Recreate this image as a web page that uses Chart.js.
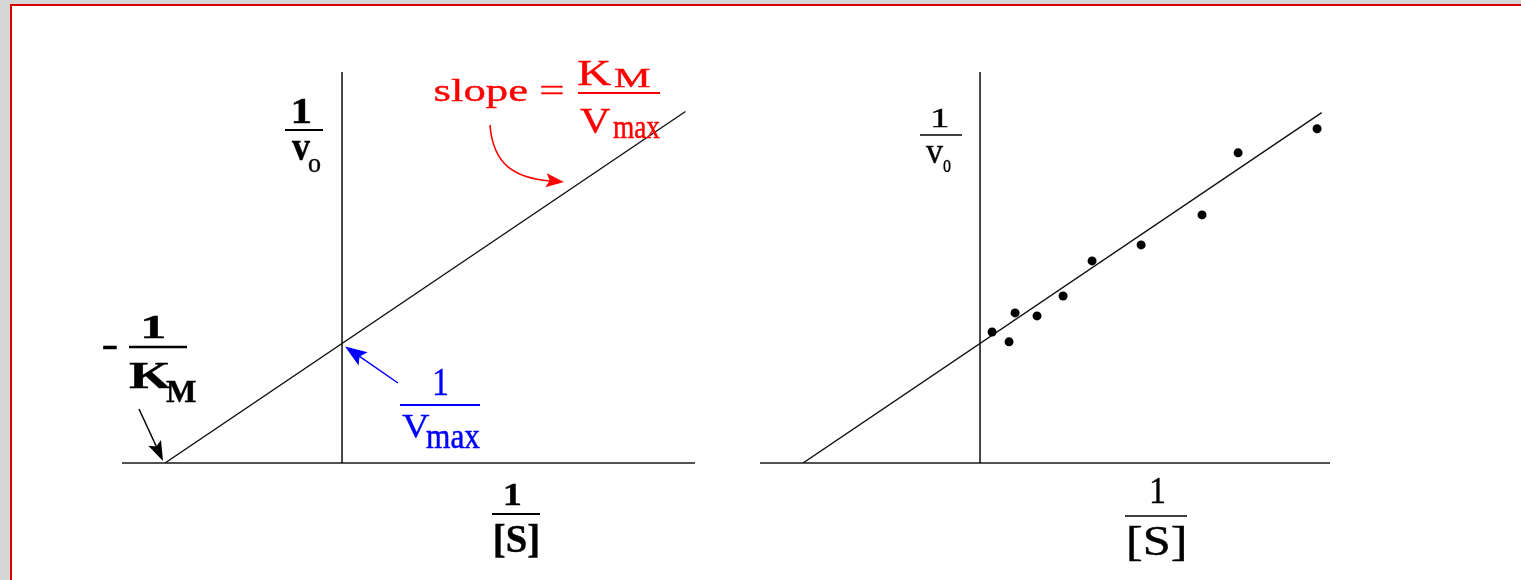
<!DOCTYPE html>
<html>
<head>
<meta charset="utf-8">
<title>Lineweaver-Burk plot</title>
<script src="https://cdn.jsdelivr.net/npm/chart.js@4.4.1/dist/chart.umd.min.js"></script>
<style>
  html, body { margin: 0; padding: 0; }
  body { width: 1521px; height: 580px; background: #d6d6d6; position: relative; overflow: hidden; }
  .page { position: absolute; left: 10px; top: 4px; right: 0; bottom: 0; background: #fff;
          border-left: 2px solid #d40000; border-top: 2px solid #d40000; }
  canvas { position: absolute; left: 0; top: 0; }
</style>
</head>
<body>
<div class="page"></div>
<canvas id="theoryChart" width="1521" height="580"></canvas>
<canvas id="dataChart" width="1521" height="580"></canvas>
<script>
// 1/[S] in units of 1/KM, 1/v0 in units of 1/Vmax
const theoryXRange = [-1.243, 1.994];
const dataXRange = [-1.243, 1.977];
const yRange = [0, 3.27];

// ideal straight line (left plot)
const idealX = [-1, 1.94];
const idealY = [0, 2.94];

// measured points (right plot)
const measuredX = [0.068, 0.164, 0.198, 0.322, 0.469, 0.633, 0.910, 1.254, 1.458, 1.904];
const measuredY = [1.096, 1.013, 1.255, 1.230, 1.397, 1.690, 1.824, 2.075, 2.594, 2.795];

// best fit line through the measured points (right plot)
const fitX = [-1, 1.93];
const fitY = [0, 2.93];

const SERIF = '"Liberation Serif", "Times New Roman", serif';
const BLACK = '#000';
const RED = '#ff0000';
const BLUE = '#0000ff';

function toPoints(xs, ys) {
  return xs.map((x, i) => ({ x: x, y: ys[i] }));
}

// draws a string so that its ink fills the box (x1,y1)-(x2,y2)
function boxText(ctx, str, font, color, x1, y1, x2, y2) {
  ctx.save();
  ctx.font = font;
  ctx.fillStyle = color;
  ctx.strokeStyle = color;
  ctx.lineWidth = 0.35;
  ctx.textBaseline = 'alphabetic';
  ctx.textAlign = 'left';
  const m = ctx.measureText(str);
  const w = m.actualBoundingBoxLeft + m.actualBoundingBoxRight;
  const h = m.actualBoundingBoxAscent + m.actualBoundingBoxDescent;
  ctx.translate(x1, y1);
  ctx.scale((x2 - x1) / w, (y2 - y1) / h);
  ctx.fillText(str, m.actualBoundingBoxLeft, m.actualBoundingBoxAscent);
  ctx.strokeText(str, m.actualBoundingBoxLeft, m.actualBoundingBoxAscent);
  ctx.restore();
}

function bar(ctx, x1, x2, y, color, width) {
  ctx.save();
  ctx.strokeStyle = color;
  ctx.lineWidth = width;
  ctx.beginPath();
  ctx.moveTo(x1, y);
  ctx.lineTo(x2, y);
  ctx.stroke();
  ctx.restore();
}

function arrowHead(ctx, tx, ty, angle, len, half, color) {
  ctx.save();
  ctx.fillStyle = color;
  ctx.translate(tx, ty);
  ctx.rotate(angle);
  ctx.beginPath();
  ctx.moveTo(0, 0);
  ctx.lineTo(-len, -half);
  ctx.lineTo(-len * 0.8, 0);
  ctx.lineTo(-len, half);
  ctx.closePath();
  ctx.fill();
  ctx.restore();
}

function straightArrow(ctx, x1, y1, x2, y2, color, len, half) {
  const ang = Math.atan2(y2 - y1, x2 - x1);
  ctx.save();
  ctx.strokeStyle = color;
  ctx.lineWidth = 1.5;
  ctx.beginPath();
  ctx.moveTo(x1, y1);
  ctx.lineTo(x2 - Math.cos(ang) * len * 0.7, y2 - Math.sin(ang) * len * 0.7);
  ctx.stroke();
  ctx.restore();
  arrowHead(ctx, x2, y2, ang, len, half, color);
}

function pixel(chart, x, y) {
  return { x: chart.scales.x.getPixelForValue(x), y: chart.scales.y.getPixelForValue(y) };
}

// x axis along the bottom, y axis through 1/[S] = 0
const axesPlugin = {
  id: 'crossAxes',
  beforeDatasetsDraw(chart) {
    const { ctx, chartArea } = chart;
    const o = pixel(chart, 0, 0);
    ctx.save();
    ctx.strokeStyle = '#1a1a1a';
    ctx.lineWidth = 1.6;
    ctx.beginPath();
    ctx.moveTo(chartArea.left, o.y);
    ctx.lineTo(chartArea.right, o.y);
    ctx.moveTo(o.x, chartArea.top);
    ctx.lineTo(o.x, o.y);
    ctx.stroke();
    ctx.restore();
  }
};

const theoryLabels = {
  id: 'theoryLabels',
  afterDatasetsDraw(chart) {
    const ctx = chart.ctx;
    const B = 'bold 36px ' + SERIF;
    const R = '34px ' + SERIF;

    // 1 / v0
    boxText(ctx, '1', B, BLACK, 293, 99, 311, 123);
    bar(ctx, 285, 323, 130, BLACK, 2);
    boxText(ctx, 'v', B, BLACK, 292, 141, 310, 160);
    boxText(ctx, 'o', '24px ' + SERIF, BLACK, 308, 159, 321, 172);

    // slope = KM / Vmax
    boxText(ctx, 'slope =', '32px ' + SERIF, RED, 435, 79, 563, 108);
    boxText(ctx, 'K', R, RED, 577, 62, 612, 85);
    boxText(ctx, 'M', '24px ' + SERIF, RED, 614, 70, 650, 87);
    bar(ctx, 578, 660, 93, RED, 2);
    boxText(ctx, 'V', R, RED, 580, 110, 611, 134);
    boxText(ctx, 'max', '24px ' + SERIF, RED, 613, 123, 660, 138);

    // curved arrow onto the line
    ctx.save();
    ctx.strokeStyle = RED;
    ctx.lineWidth = 1.6;
    ctx.beginPath();
    ctx.moveTo(490, 125);
    ctx.bezierCurveTo(493, 165, 515, 178, 550, 181);
    ctx.stroke();
    ctx.restore();
    arrowHead(ctx, 564, 182, Math.atan2(4, 40), 18, 7, RED);

    // -1 / KM at the x intercept
    boxText(ctx, '-', B, BLACK, 103, 345, 117, 349);
    boxText(ctx, '1', B, BLACK, 143, 315, 165, 338);
    bar(ctx, 129, 187, 347, BLACK, 2.5);
    boxText(ctx, 'K', B, BLACK, 129, 363, 171, 388);
    boxText(ctx, 'M', 'bold 28px ' + SERIF, BLACK, 166, 382, 196, 402);
    const xi = pixel(chart, idealX[0], idealY[0]);
    straightArrow(ctx, 139, 409, xi.x - 2, xi.y - 2, BLACK, 20, 7);

    // 1 / Vmax at the y intercept
    const yi = pixel(chart, 0, idealY[0] + (idealY[1] - idealY[0]) * (0 - idealX[0]) / (idealX[1] - idealX[0]));
    straightArrow(ctx, 398, 383, yi.x + 3, yi.y + 3, BLUE, 22, 8);
    boxText(ctx, '1', R, BLUE, 434, 369, 447, 395);
    bar(ctx, 400, 480, 405, BLUE, 2);
    boxText(ctx, 'V', R, BLUE, 402, 415, 430, 438);
    boxText(ctx, 'max', '24px ' + SERIF, BLUE, 426, 432, 480, 448);

    // 1 / [S]
    boxText(ctx, '1', B, BLACK, 505, 484, 521, 505);
    bar(ctx, 492, 540, 514, BLACK, 2);
    boxText(ctx, '[S]', B, BLACK, 495, 524, 538, 558);
  }
};

const dataLabels = {
  id: 'dataLabels',
  afterDatasetsDraw(chart) {
    const ctx = chart.ctx;
    const R = '34px ' + SERIF;

    // 1 / v0
    boxText(ctx, '1', '26px ' + SERIF, BLACK, 933, 109, 948, 127);
    bar(ctx, 920, 962, 135, BLACK, 1.5);
    boxText(ctx, 'v', '30px ' + SERIF, BLACK, 926, 146, 943, 163);
    boxText(ctx, 'o', '20px ' + SERIF, BLACK, 943, 159, 951, 172);

    // 1 / [S]
    boxText(ctx, '1', R, BLACK, 1151, 479, 1164, 503);
    bar(ctx, 1125, 1187, 516, BLACK, 1.5);
    boxText(ctx, '[S]', R, BLACK, 1129, 526, 1184, 561);
  }
};

function baseOptions(xRange, padding) {
  return {
    responsive: false,
    animation: false,
    devicePixelRatio: 1,
    layout: { padding: padding },
    plugins: { legend: { display: false }, tooltip: { enabled: false } },
    events: [],
    scales: {
      x: { type: 'linear', min: xRange[0], max: xRange[1], display: false },
      y: { type: 'linear', min: yRange[0], max: yRange[1], display: false }
    }
  };
}

// Left: the ideal double reciprocal plot
new Chart(document.getElementById('theoryChart'), {
  type: 'scatter',
  data: {
    datasets: [{
      data: toPoints(idealX, idealY),
      showLine: true,
      borderColor: '#111',
      borderWidth: 1.4,
      pointRadius: 0
    }]
  },
  options: baseOptions(theoryXRange, { left: 122, right: 1521 - 695, top: 72, bottom: 580 - 463 }),
  plugins: [axesPlugin, theoryLabels]
});

// Right: measured points with a fitted line
new Chart(document.getElementById('dataChart'), {
  type: 'scatter',
  data: {
    datasets: [
      {
        data: toPoints(measuredX, measuredY),
        backgroundColor: '#000',
        borderWidth: 0,
        pointRadius: 4.5
      },
      {
        data: toPoints(fitX, fitY),
        showLine: true,
        borderColor: '#111',
        borderWidth: 1.4,
        pointRadius: 0
      }
    ]
  },
  options: baseOptions(dataXRange, { left: 760, right: 1521 - 1330, top: 72, bottom: 580 - 463 }),
  plugins: [axesPlugin, dataLabels]
});
</script>
</body>
</html>
